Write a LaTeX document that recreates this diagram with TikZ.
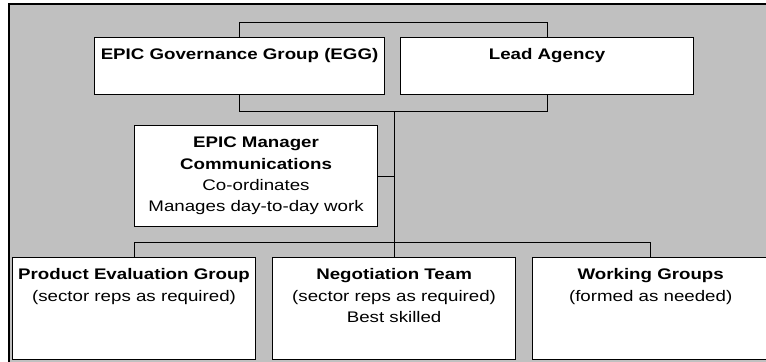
\documentclass[tikz,border=0pt]{standalone}
\usepackage{fontspec}
\setmainfont{Liberation Sans}[FakeStretch=1.22]
\usepackage{tikz}
\usetikzlibrary{positioning}
\definecolor{panelgray}{HTML}{C0C0C0}
\tikzstyle{block} = [draw, fill=white, rectangle, line width=0.8pt, anchor=north west]
\tikzstyle{wire} = [draw, line width=0.75pt]
\tikzset{heading/.style={label={[anchor=north, align=center, inner sep=0pt, yshift=-8.5pt]north:{#1}}}}

\begin{document}
\begin{tikzpicture}[x=0.75pt, y=-0.75pt, node distance=12pt, font=\fontsize{11.5pt}{16pt}\selectfont]
    \clip (0,0) rectangle (766,361);
    % panel
    \fill [panelgray] (9,4) rectangle (780,380);
    \draw [line width=1.5pt] (9,380) -- (9,4) -- (780,4);
    % top row
    \node [block, minimum width=217.5pt, minimum height=42.75pt, heading={\textbf{EPIC Governance Group (EGG)}}] (egg) at (94,37) {};
    \node [block, minimum width=219.75pt, minimum height=42.75pt, right=11.25pt of egg, heading={\textbf{Lead Agency}}] (lead) {};
    \node [block, minimum width=182.25pt, minimum height=75.75pt, align=center] (manager) at (134,125) {\textbf{EPIC Manager}\\\textbf{Communications}\\Co-ordinates\\Manages day-to-day work};
    % bottom row
    \node [block, minimum width=182.25pt, minimum height=76.5pt, heading={\textbf{Product Evaluation Group}\\(sector reps as required)}] (peg) at (12,257) {};
    \node [block, minimum width=182.25pt, minimum height=76.5pt, right=of peg, heading={\textbf{Negotiation Team}\\(sector reps as required)\\Best skilled}] (team) {};
    \node [block, minimum width=177pt, minimum height=76.5pt, right=of team, heading={\textbf{Working Groups}\\(formed as needed)}] (groups) {};
    % connectors
    \draw [wire] (egg.north) -- ++(0,-15) -| (lead.north);
    \draw [wire] (egg.south) -- ++(0,16) coordinate (topbus) -| (lead.south);
    \draw [wire] (team.north |- topbus) -- (team.north);
    \draw [wire] (manager.east) -- (manager.east -| team.north);
    \draw [wire] (peg.north) -- ++(0,-15) -| (groups.north);
\end{tikzpicture}
\end{document}
